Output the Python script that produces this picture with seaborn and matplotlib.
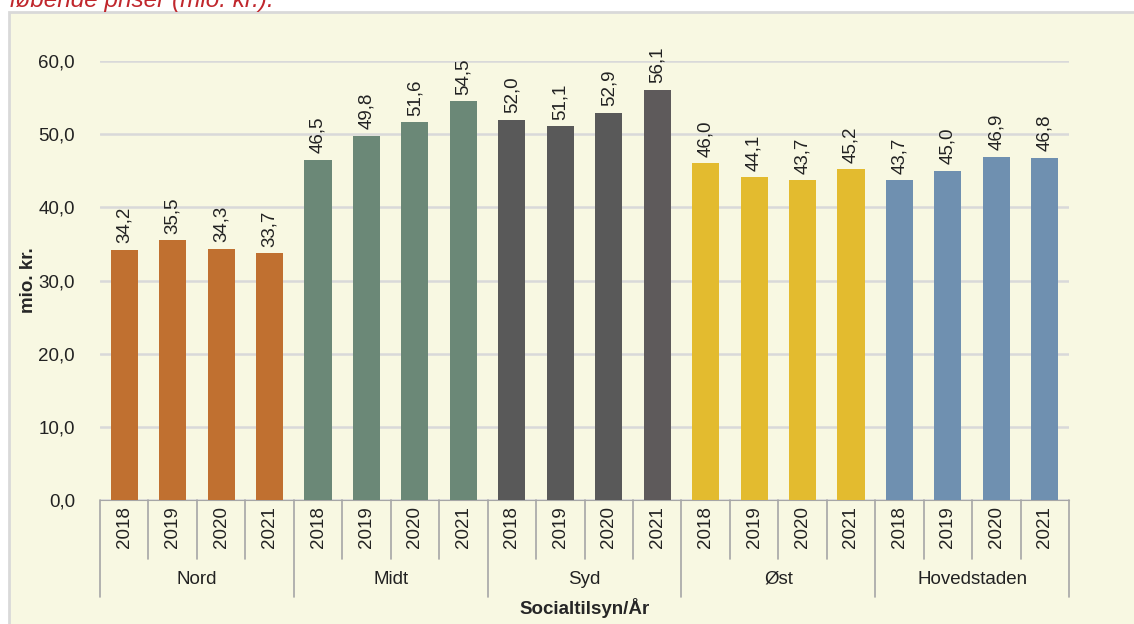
import pandas as pd
import seaborn as sns
import matplotlib.pyplot as plt

# Data
regions = ['Nord', 'Midt', 'Syd', 'Øst', 'Hovedstaden']
years = ['2018', '2019', '2020', '2021']
nord = [34.2, 35.5, 34.3, 33.7]
midt = [46.5, 49.8, 51.6, 54.5]
syd = [52.0, 51.1, 52.9, 56.1]
oest = [46.0, 44.1, 43.7, 45.2]
hovedstaden = [43.7, 45.0, 46.9, 46.8]
colors = ['#c07030', '#6b8877', '#595959', '#e3bb2f', '#6f90b0']

rows = []
for reg, vals in zip(regions, [nord, midt, syd, oest, hovedstaden]):
    for yr, v in zip(years, vals):
        rows.append({'label': reg + ' ' + yr, 'region': reg, 'year': yr, 'value': v})
df = pd.DataFrame(rows)

bg = '#f8f8e2'
fs = 13.5
sns.set_style('white')
plt.rcParams['font.family'] = ['Liberation Sans', 'DejaVu Sans']

fig = plt.figure(figsize=(11.34, 6.24), dpi=100)
fig.patch.set_facecolor('white')
# cream chart area with thin grey frame
frame = plt.Rectangle((9 / 1134, -0.01), 1.0, 1.01 - 12 / 624, transform=fig.transFigure,
                      facecolor=bg, edgecolor='#d9d9d9', linewidth=2, zorder=-10)
fig.add_artist(frame)
fig.text(10 / 1134, 1.0, 'løbende priser (mio. kr.).', color='#c0272d', style='italic',
         fontsize=17.5, va='center', ha='left')

ax = fig.add_axes([100 / 1134, 1 - 500 / 624, 969 / 1134, 439 / 624])
ax.patch.set_alpha(0)
sns.barplot(data=df, x='label', y='value', hue='region', palette=colors, dodge=False,
            width=0.56, saturation=1, linewidth=0, legend=False, ax=ax, zorder=3)
# last Syd bar is a slightly different grey
for p in ax.patches:
    if abs(p.get_x() + p.get_width() / 2 - 11) < 0.1:
        p.set_facecolor('#5e5a5b')

ax.set_ylim(0, 60)
ax.set_xlim(-0.5, len(df) - 0.5)
ax.set_yticks(range(0, 61, 10))
ax.set_yticklabels([f'{t},0' for t in range(0, 61, 10)], fontsize=fs, color='#222222')
ax.tick_params(axis='y', length=0, pad=18)
ax.yaxis.grid(True, color='#d9d9d9', linewidth=1.8, zorder=0)
ax.set_axisbelow(True)
for s in ['left', 'right', 'top']:
    ax.spines[s].set_visible(False)
ax.spines['bottom'].set_color('#a6a6a6')
ax.set_xticks([])
ax.set_xlabel('')
ax.set_ylabel('mio. kr.', fontsize=fs, fontweight='bold')
ax.yaxis.set_label_coords(-0.065, 0.5)

# value labels, rotated
for i, v in enumerate(df['value']):
    ax.text(i, v + 0.9, f'{v:.1f}'.replace('.', ','), rotation=90, ha='center', va='bottom',
            fontsize=fs, color='#222222', clip_on=False)

# hierarchical category axis
tr = ax.get_xaxis_transform()
for i in range(len(df) + 1):
    low = -0.221 if i % 4 == 0 else -0.134
    ax.plot([i - 0.5, i - 0.5], [0, low], color='#a6a6a6', linewidth=1.2,
            transform=tr, clip_on=False)
for i, yr in enumerate(df['year']):
    ax.text(i, -0.062, yr, rotation=90, ha='center', va='center', fontsize=fs,
            color='#222222', transform=tr)
for g, reg in enumerate(regions):
    ax.text(g * 4 + 1.5, -0.18, reg, ha='center', va='center', fontsize=fs,
            color='#222222', transform=tr)
ax.text(0.5, -0.245, 'Socialtilsyn/År', ha='center', va='center', fontsize=fs,
        fontweight='bold', transform=ax.transAxes)

fig.savefig('out.png', dpi=100, facecolor=fig.get_facecolor())
